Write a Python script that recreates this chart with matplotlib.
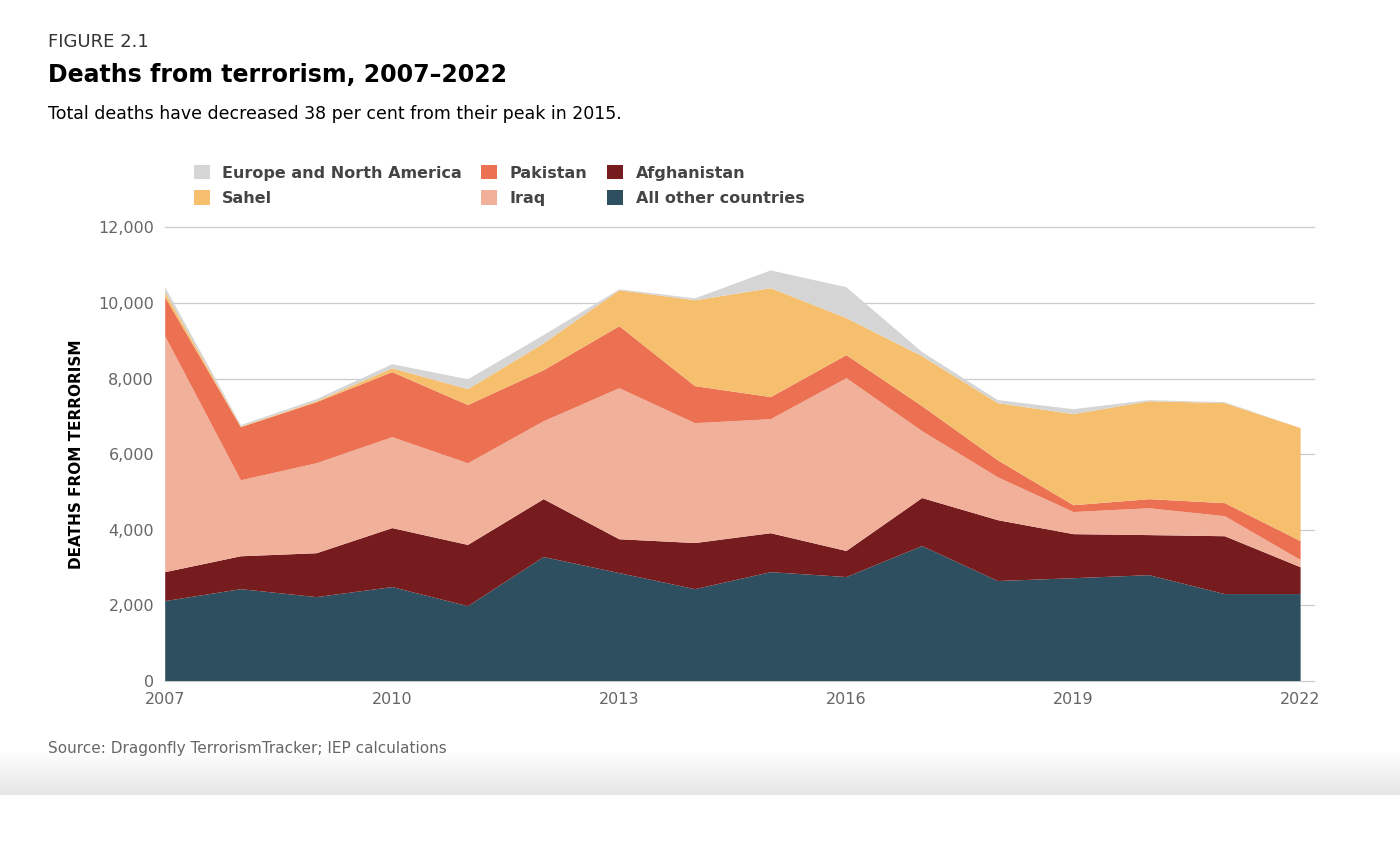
import matplotlib.pyplot as plt
from matplotlib.patches import Rectangle

# ==============================
# DATA
# ==============================
years = list(range(2007, 2023))
all_other = [2115, 2430, 2220, 2485, 1980, 3280, 2855, 2430, 2880, 2750, 3570, 2645, 2720, 2800, 2300, 2300]
afghanistan = [765, 870, 1160, 1560, 1620, 1530, 895, 1220, 1030, 690, 1270, 1610, 1165, 1060, 1530, 710]
iraq = [6240, 2010, 2380, 2405, 2160, 2060, 3995, 3170, 3015, 4570, 1770, 1135, 585, 710, 530, 190]
pakistan = [1030, 1405, 1615, 1720, 1540, 1350, 1640, 980, 585, 610, 660, 450, 180, 240, 345, 500]
sahel = [130, 15, 25, 100, 420, 710, 950, 2270, 2880, 980, 1320, 1510, 2410, 2590, 2645, 2990]
europe_na = [135, 40, 55, 110, 260, 220, 25, 50, 470, 815, 110, 80, 130, 30, 25, 0]

labels = ["All other countries", "Afghanistan", "Iraq", "Pakistan", "Sahel", "Europe and North America"]
colors = ["#2d4f5f", "#771c1e", "#f0b09a", "#ec7152", "#f5bf6e", "#d5d5d5"]

# ==============================
# PLOT
# ==============================
fig = plt.figure(figsize=(14, 8.61), dpi=100)
ax = fig.add_axes([0.118, 0.209, 0.811, 0.527])

polys = ax.stackplot(years, all_other, afghanistan, iraq, pakistan, sahel, europe_na,
                     colors=colors, labels=labels, linewidth=0)

ax.set_xlim(2007, 2022)
ax.set_ylim(0, 12000)
ax.set_yticks(range(0, 12001, 2000))
ax.set_yticklabels([f"{v:,}" for v in range(0, 12001, 2000)])
ax.set_xticks([2007, 2010, 2013, 2016, 2019, 2022])
ax.tick_params(length=0, labelsize=11.5, colors="#666666", pad=8)
for y in range(0, 12001, 2000):
    ax.axhline(y, xmin=0, xmax=1.012, color="#cccccc", lw=0.9, zorder=0, clip_on=False)
for s in ax.spines.values():
    s.set_visible(False)
ax.set_ylabel("DEATHS FROM TERRORISM", fontsize=11, fontweight="bold", labelpad=10)

# legend: order as in the picture
handles = {p.get_label(): p for p in polys}
order = ["Europe and North America", "Sahel", "Pakistan", "Iraq", "Afghanistan", "All other countries"]
fig.legend([handles[k] for k in order], order, ncol=3, loc="upper left",
           bbox_to_anchor=(0.128, 0.825), frameon=False, fontsize=11.5,
           prop={"weight": "bold", "size": 11.5}, labelcolor="#444444",
           handlelength=1.0, handleheight=1.0, columnspacing=1.2, labelspacing=0.6)

fig.text(0.034, 0.945, "FIGURE 2.1", fontsize=13, color="#333333")
fig.text(0.034, 0.905, "Deaths from terrorism, 2007–2022", fontsize=17, fontweight="bold")
fig.text(0.034, 0.862, "Total deaths have decreased 38 per cent from their peak in 2015.", fontsize=12.5)
fig.text(0.034, 0.126, "Source: Dragonfly TerrorismTracker; IEP calculations", fontsize=11, color="#666666")

# grey band at the bottom of the screenshot
for i in range(12):
    fig.add_artist(Rectangle((0, 0.077 + i * 0.004), 1, 0.004, transform=fig.transFigure,
                             color=(0.90 + i * 0.008,) * 3, lw=0, zorder=-1))

fig.savefig("out.png", dpi=100)
